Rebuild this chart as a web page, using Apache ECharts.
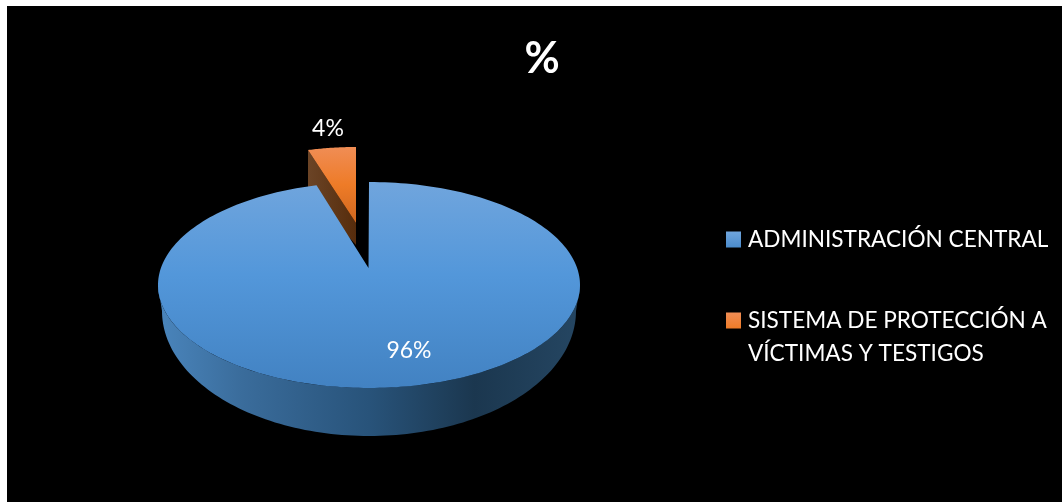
<!DOCTYPE html>
<html><head><meta charset="utf-8">
<style>html,body{margin:0;padding:0;background:#fff}#c{width:1062px;height:502px}</style>
<script src="https://cdn.jsdelivr.net/npm/echarts@6/dist/echarts.min.js"></script>
</head><body><div id="c"></div>
<script>
const titleText = '%';
const categories = ['ADMINISTRACIÓN CENTRAL', 'SISTEMA DE PROTECCIÓN A\nVÍCTIMAS Y TESTIGOS'];
const values = [96, 4];
const labels = ['96%', '4%'];

const total = values.reduce((a, b) => a + b, 0);
const FONT = 'Lato, Carlito, Calibri, sans-serif';
const grad = (x, y, x2, y2, stops) => ({
  type: 'linear', x, y, x2, y2, global: true,
  colorStops: stops.map(([offset, color]) => ({offset, color}))
});
const boxGrad = (stops) => ({
  type: 'linear', x: 0, y: 0, x2: 0, y2: 1,
  colorStops: stops.map(([offset, color]) => ({offset, color}))
});
const frac = v => 2 * Math.PI * v / total;
function arc(e, a, b, n) {
  const pts = [];
  for (let i = 0; i <= n; i++) {
    const t = a + (b - a) * i / n;
    pts.push([e.cx + e.rx * Math.sin(t), e.cy - e.ry * Math.cos(t)]);
  }
  return pts;
}
const poly = (points, fill) => ({type: 'polygon', shape: {points}, style: {fill}, silent: true});

function renderBlue(params, api) {
  const top = {cx: 369, cy: 285, rx: 211, ry: 103};
  const low = {cx: 369, cy: 311, rx: 207, ry: 125};
  const end = frac(api.value(0));
  const apex = [368.5, 268];
  const front = arc(top, Math.PI / 2, Math.PI * 1.5, 120).concat(arc(low, Math.PI * 1.5, Math.PI / 2, 120));
  return {type: 'group', children: [
    poly(front, grad(158, 0, 580, 0, [[0, '#4a85bc'], [0.2, '#3a6c9b'], [0.5, '#28537a'], [0.75, '#1b374f'], [1, '#254662']])),
    poly([apex].concat(arc(top, 0, end, 240)), grad(0, 182, 0, 388, [[0, '#70a5dd'], [0.45, '#5397da'], [1, '#4282c2']])),
    {type: 'text', silent: true, style: {x: 409, y: 351, text: labels[0], fill: '#fff', font: '23px ' + FONT, align: 'center', verticalAlign: 'middle'}}
  ]};
}
function renderOrange(params, api) {
  const top = {cx: 356, cy: 243, rx: 193, ry: 96};
  const span = frac(api.value(0));
  const apex = [356, 223];
  const rim = arc(top, -span, 0, 30);
  const depth = [[rim[0][0], rim[0][1] + 42], [356, 245]];
  return {type: 'group', children: [
    poly([rim[0], apex, depth[1], depth[0]], grad(308, 0, 356, 0, [[0, '#6b4426'], [1, '#562c0c']])),
    poly([apex].concat(rim), grad(0, 147, 0, 223, [[0, '#f08d55'], [0.5, '#ee7b27'], [1, '#cf671f']])),
    {type: 'text', silent: true, style: {x: 328, y: 129, text: labels[1], fill: '#fff', font: '23px ' + FONT, align: 'center', verticalAlign: 'middle'}}
  ]};
}

const legendText = {color: '#fff', fontFamily: FONT, fontSize: 22.6, lineHeight: 33, padding: [0, 0, 0, 2]};
const chart = echarts.init(document.getElementById('c'), null, {renderer: 'canvas'});
chart.setOption({
  animation: false,
  backgroundColor: '#fff',
  graphic: [{type: 'rect', shape: {x: 7, y: 6, width: 1055, height: 496}, style: {fill: '#000'}, silent: true, z: -10}],
  title: {text: titleText, left: 542, top: 38, padding: 0, textAlign: 'center',
    textStyle: {color: '#fff', fontFamily: FONT, fontWeight: 'bold', fontSize: 43}},
  legend: [
    {left: 726, top: 223, padding: 0, itemWidth: 15, itemHeight: 16, selectedMode: false, align: 'left',
     textStyle: legendText,
     data: [{name: categories[0], icon: 'rect', itemStyle: {color: boxGrad([[0, '#70a5dd'], [1, '#4a8ccc']])}}]},
    {left: 726, top: 304, padding: 0, itemWidth: 15, itemHeight: 49, selectedMode: false, align: 'left',
     textStyle: legendText,
     data: [{name: categories[1], icon: 'path://M0 0H15V16H0Z M0 48.9L0.02 49L0 49Z',
             itemStyle: {color: boxGrad([[0, '#f08d55'], [0.33, '#ee7b27']])}}]}
  ],
  series: [
    {type: 'custom', name: categories[1], coordinateSystem: 'none', renderItem: renderOrange, data: [[values[1]]], itemStyle: {color: '#ee7b27'}},
    {type: 'custom', name: categories[0], coordinateSystem: 'none', renderItem: renderBlue, data: [[values[0]]], itemStyle: {color: '#5397da'}}
  ]
});
</script></body></html>
